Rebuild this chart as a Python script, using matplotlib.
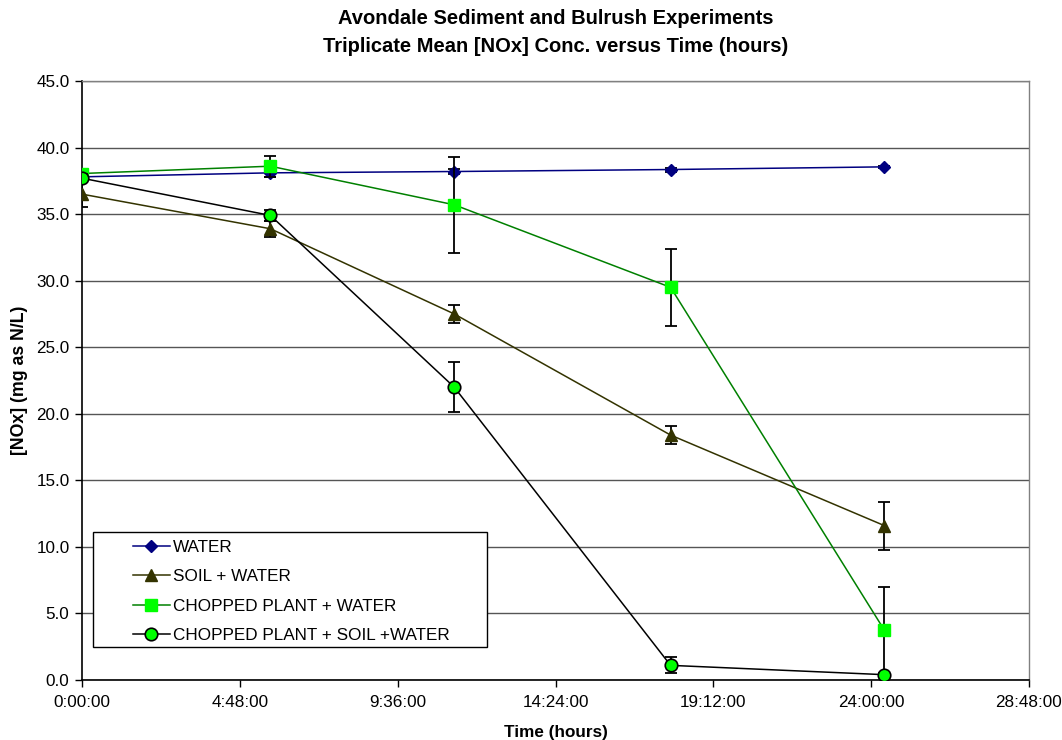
import matplotlib
matplotlib.use("Agg")
import matplotlib.pyplot as plt
from matplotlib.ticker import FuncFormatter, FixedLocator
from matplotlib.patches import Rectangle

plt.rcParams['font.family'] = ['Liberation Sans', 'DejaVu Sans']

# ---- data (hours, mg N/L) ----
time_h = [0.0, 5.73, 11.32, 17.9, 24.4]
series_names = ["WATER", "SOIL + WATER", "CHOPPED PLANT + WATER",
                "CHOPPED PLANT + SOIL +WATER"]
water = [37.8, 38.1, 38.2, 38.35, 38.55]
water_err = [0.1, 0.3, 0.2, 0.15, 0.1]
soil = [36.5, 33.9, 27.5, 18.4, 11.6]
soil_err = [1.0, 0.6, 0.7, 0.65, 1.8]
plant = [38.05, 38.6, 35.7, 29.5, 3.75]
plant_err = [0.3, 0.8, 3.6, 2.9, 3.2]
plant_soil = [37.7, 34.9, 22.0, 1.1, 0.4]
plant_soil_err = [0.3, 0.4, 1.9, 0.6, 0.1]

x_ticks = [0, 4.8, 9.6, 14.4, 19.2, 24.0, 28.8]
y_ticks = [0, 5, 10, 15, 20, 25, 30, 35, 40, 45]

fig = plt.figure(figsize=(10.62, 7.4), dpi=100)
W, H = 1062, 740
L, R, B, T = 82, 1029, 680, 81
ax = fig.add_axes([L / W, 1 - B / H, (R - L) / W, (B - T) / H])

styles = [
    dict(color="#000080", marker="D", mfc="#000080", mec="#000080", ms=6.5),
    dict(color="#333300", marker="^", mfc="#333300", mec="#333300", ms=9),
    dict(color="#008000", marker="s", mfc="#00FF00", mec="#00FF00", ms=8.5),
    dict(color="#000000", marker="o", mfc="#00FF00", mec="#000000", ms=9, mew=1.2),
]
data = [(water, water_err), (soil, soil_err), (plant, plant_err),
        (plant_soil, plant_soil_err)]

handles = []
for i, ((vals, errs), st, name) in enumerate(zip(data, styles, series_names)):
    ax.errorbar(time_h, vals, yerr=errs, fmt="none", ecolor="black",
                elinewidth=1.3, capsize=4, capthick=1.3, zorder=3 + i)
    h, = ax.plot(time_h, vals, lw=1.1, zorder=3.5 + i, label=name, **st)
    handles.append(h)

ax.set_xlim(0, 28.8)
ax.set_ylim(0, 45)
ax.xaxis.set_major_locator(FixedLocator(x_ticks))
ax.yaxis.set_major_locator(FixedLocator(y_ticks))


def hms(v, pos):
    total = int(round(v * 3600))
    hh = total // 3600
    mm = (total % 3600) // 60
    ss = total % 60
    return f"{hh}:{mm:02d}:{ss:02d}"


ax.xaxis.set_major_formatter(FuncFormatter(hms))
ax.yaxis.set_major_formatter(FuncFormatter(lambda v, p: f"{v:.1f}"))
ax.tick_params(axis="both", labelsize=12.3, direction="out", length=5,
               width=1, color="black")
ax.tick_params(axis="x", pad=6)
ax.tick_params(axis="y", pad=4)

ax.yaxis.grid(True, color="#555555", lw=1)
ax.set_axisbelow(True)
for s in ["top", "right"]:
    ax.spines[s].set_color("#808080")
    ax.spines[s].set_linewidth(1)
for s in ["left", "bottom"]:
    ax.spines[s].set_color("black")
    ax.spines[s].set_linewidth(1.2)

fig.text(((L + R) / 2) / W, 1 - 19 / H,
         "Avondale Sediment and Bulrush Experiments",
         ha="center", va="center", fontsize=14.5, fontweight="bold")
fig.text(((L + R) / 2) / W, 1 - 46 / H,
         "Triplicate Mean [NOx] Conc. versus Time (hours)",
         ha="center", va="center", fontsize=14.5, fontweight="bold")
fig.text(((L + R) / 2) / W, 1 - 732 / H, "Time (hours)",
         ha="center", va="center", fontsize=12.3, fontweight="bold")
fig.text(20 / W, 1 - ((T + B) / 2 - 0) / H, "[NOx] (mg as N/L)",
         ha="center", va="center", rotation=90, fontsize=12.8,
         fontweight="bold")

# legend box
bx0, by0, bx1, by1 = 93, 532, 487, 647
rect = Rectangle(((bx0 - L) / (R - L), (B - by1) / (B - T)),
                 (bx1 - bx0) / (R - L), (by1 - by0) / (B - T),
                 transform=ax.transAxes, facecolor="white",
                 edgecolor="black", lw=1, zorder=20)
ax.add_patch(rect)
leg = ax.legend(handles=handles, loc="upper left",
                bbox_to_anchor=((133 - L) / (R - L), (B - 540) / (B - T)),
                frameon=False, borderpad=0, borderaxespad=0,
                fontsize=12.3, handlelength=2.15, handletextpad=0.2,
                labelspacing=0.84)
leg.set_zorder(21)

fig.savefig("out.png", dpi=100)
